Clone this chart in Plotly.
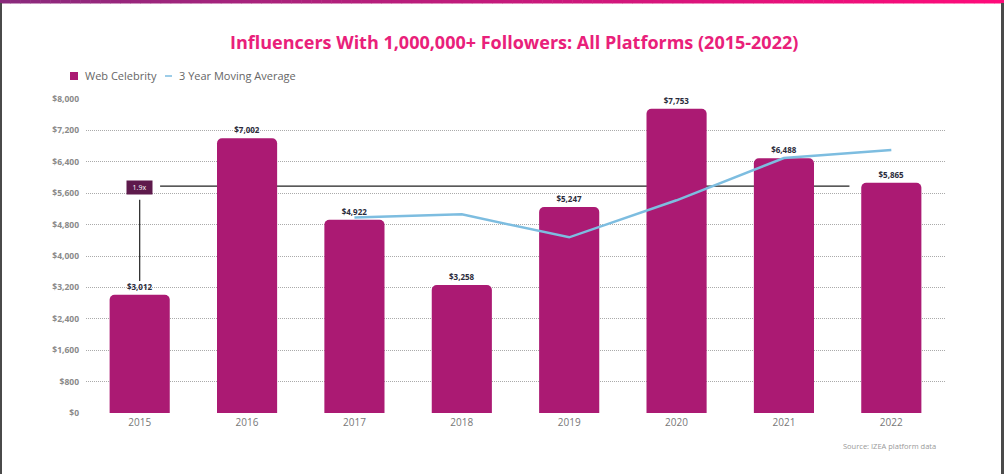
import plotly.graph_objects as go

# ---- data ----
years = ["2015", "2016", "2017", "2018", "2019", "2020", "2021", "2022"]
web_celebrity = [3012, 7002, 4922, 3258, 5247, 7753, 6488, 5865]
ma_years = ["2017", "2018", "2019", "2020", "2021", "2022"]
moving_avg = [4979, 5061, 4476, 5419, 6496, 6702]
y_ticks = [0, 800, 1600, 2400, 3200, 4000, 4800, 5600, 6400, 7200, 8000]
y_tick_labels = ["$0", "$800", "$1,600", "$2,400", "$3,200", "$4,000", "$4,800",
                 "$5,600", "$6,400", "$7,200", "$8,000"]
growth_label = "1.9x"
growth_level = 5780

W, H = 1004, 474
ML, MR, MT, MB = 86, 59, 99, 61
PW, PH = W - ML - MR, H - MT - MB

def px(x):
    return (x - ML) / PW

def py(y):
    return (H - MB - y) / PH

BAR = "#AB1A73"
LINE = "#7DBDE0"

fig = go.Figure()
fig.add_trace(go.Bar(
    x=years, y=web_celebrity, name="Web Celebrity",
    marker=dict(color=BAR, line=dict(width=0), cornerradius=5),
    width=0.56,
    text=[f"${v:,}" for v in web_celebrity], textposition="outside",
    textfont=dict(family="Open Sans", size=8, color="#2b2b3b", weight="bold"),
    cliponaxis=False, showlegend=False,
))
fig.add_trace(go.Scatter(
    x=ma_years, y=moving_avg, name="3 Year Moving Average", mode="lines",
    line=dict(color=LINE, width=2.5), showlegend=False,
))

shapes = []
# top gradient bar
n = 100
c0 = (0x8A, 0x2A, 0x7C)
c1 = (0xFF, 0x0A, 0x7A)
for i in range(n):
    t = i / (n - 1)
    col = "rgb(%d,%d,%d)" % tuple(round(a + (b - a) * t) for a, b in zip(c0, c1))
    shapes.append(dict(type="rect", xref="paper", yref="paper",
                       x0=px(i * W / n), x1=px((i + 1) * W / n + 0.5),
                       y0=py(3.5), y1=py(0), fillcolor=col, line=dict(width=0), layer="above"))
# side borders
shapes.append(dict(type="rect", xref="paper", yref="paper", x0=px(0), x1=px(2),
                   y0=py(H), y1=py(3), fillcolor="#4a4a4a", line=dict(width=0)))
shapes.append(dict(type="rect", xref="paper", yref="paper", x0=px(1001), x1=px(W),
                   y0=py(H), y1=py(3), fillcolor="#4a4a4a", line=dict(width=0)))
# growth reference lines
shapes.append(dict(type="line", xref="x", yref="y", x0=0.19, x1=6.61,
                   y0=growth_level, y1=growth_level, line=dict(color="#222", width=1.2), layer="below"))
shapes.append(dict(type="line", xref="x", yref="y", x0=0, x1=0,
                   y0=3360, y1=5430, line=dict(color="#222", width=1.2)))
# legend marks
shapes.append(dict(type="rect", xref="paper", yref="paper", x0=px(70), x1=px(78),
                   y0=py(80), y1=py(72), fillcolor=BAR, line=dict(width=0)))
shapes.append(dict(type="line", xref="paper", yref="paper", x0=px(165), x1=px(172),
                   y0=py(76), y1=py(76), line=dict(color=LINE, width=1.5)))

annotations = [
    dict(text="Influencers With 1,000,000+ Followers: All Platforms (2015-2022)",
         xref="paper", yref="paper", x=px(514), y=py(42), showarrow=False,
         font=dict(family="Open Sans", size=18, color="#E9207A", weight="bold"),
         xanchor="center", yanchor="middle"),
    dict(text="Web Celebrity", xref="paper", yref="paper", x=px(83), y=py(76),
         showarrow=False, xanchor="left", yanchor="middle",
         font=dict(family="Open Sans", size=11, color="#666")),
    dict(text="3 Year Moving Average", xref="paper", yref="paper", x=px(177), y=py(76),
         showarrow=False, xanchor="left", yanchor="middle",
         font=dict(family="Open Sans", size=11, color="#666")),
    dict(text="Source: IZEA platform data", xref="paper", yref="paper", x=px(938), y=py(446),
         showarrow=False, xanchor="right", yanchor="middle",
         font=dict(family="Open Sans", size=7.5, color="#999")),
    dict(text=growth_label, xref="x", yref="y", x=0, y=growth_level - 30,
         showarrow=False, xanchor="center", yanchor="middle",
         bgcolor="#5E1A4C", borderpad=2, width=21,
         font=dict(family="Open Sans", size=7, color="#fff")),
]

fig.update_layout(
    width=W, height=H,
    margin=dict(l=ML, r=MR, t=MT, b=MB, pad=0),
    paper_bgcolor="white", plot_bgcolor="white",
    bargap=0.44,
    shapes=shapes, annotations=annotations,
    xaxis=dict(type="category", range=[-0.5, 7.5], showgrid=False, showline=False,
               ticks="", tickfont=dict(family="Open Sans", size=10, color="#777"),
               ticklabelstandoff=2),
    yaxis=dict(range=[0, 8000], tickvals=y_ticks, ticktext=y_tick_labels,
               showgrid=True, gridcolor="#aaaaaa", griddash="1px,1px", gridwidth=1,
               zeroline=False, showline=False, ticks="",
               tickfont=dict(family="Open Sans", size=8.5, color="#8a8a8a", weight="bold"),
               ticklabelstandoff=6),
    showlegend=False,
)

fig.write_html("out.html")
